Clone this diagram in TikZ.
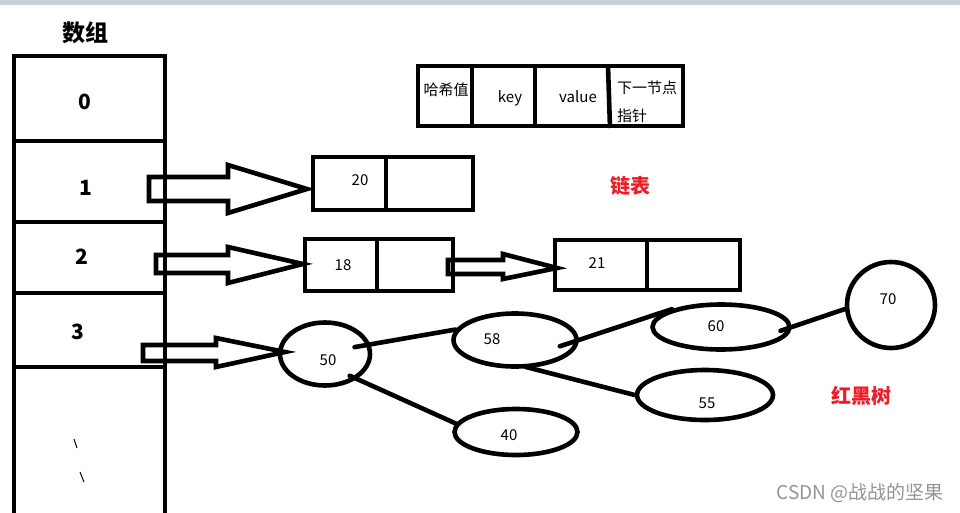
\documentclass[tikz,border=0pt]{standalone}
\usepackage{fontspec}
\setmainfont{Noto Sans CJK SC}
\usetikzlibrary{shapes.geometric}
\definecolor{topband}{RGB}{200,208,222}
\definecolor{redlbl}{RGB}{235,30,40}
\tikzset{
  thick line/.style={line width=4.6pt},
  txt/.style={inner sep=0pt, font=\fontsize{15}{17}\selectfont},
  idx/.style={inner sep=0pt, font=\fontsize{21}{23}\selectfont\bfseries},
  ttl/.style={inner sep=0pt, font=\fontsize{23}{25}\selectfont\bfseries},
  redtxt/.style={inner sep=0pt, text=redlbl, font=\fontsize{20}{22}\selectfont\bfseries},
  oval/.style={ellipse, draw, line width=4.6pt, inner sep=0pt},
  hollow/.style={draw, line width=4.6pt, line join=miter, fill=white},
  edge/.style={line width=4.6pt, line cap=round},
}
\begin{document}
\begin{tikzpicture}[x=1pt,y=-1pt]
\useasboundingbox (0,0) rectangle (960,512);
\fill[white] (0,0) rectangle (960,512);
\fill[topband] (0,0) rectangle (960,5);

% hollow arrows
\draw[hollow] (149,177) -- (228,177) -- (228,165) -- (307,189) -- (228,213) -- (228,201) -- (149,201) -- cycle;
\draw[hollow] (156,255) -- (228,255) -- (228,247) -- (303,264) -- (228,283) -- (228,273) -- (156,273) -- cycle;
\draw[hollow] (143,345) -- (216,345) -- (216,338) -- (285,352) -- (216,367) -- (216,361) -- (143,361) -- cycle;

% array
\node[ttl] (title) at (85,33) {数组};
\draw[thick line] (14,520) -- (14,56) -- (165,56) -- (165,520);
\draw[thick line] (14,141) -- (165,141);
\draw[thick line] (14,222) -- (167,222);
\draw[thick line] (12,293) -- (165,293);
\draw[thick line] (16,367) -- (165,367);
\node[idx] (i0) at (85,102) {0};
\node[idx] (i1) at (86,188) {1};
\node[idx] (i2) at (82,257) {2};
\node[idx] (i3) at (78,332) {3};
\draw[line width=1pt] (74,439) -- (77,448);
\draw[line width=1pt] (80,472) -- (84,482);

% header box
\draw[thick line] (418,66) rectangle (683,126);
\draw[thick line] (472,66) -- (472,128);
\draw[thick line] (535,66) -- (535,128);
\draw[thick line] (608,66) -- (610,128);
\node[txt] (h1) at (446,90) {哈希值};
\node[txt] (h2) at (510,98) {key};
\node[txt] (h3) at (578,97) {value};
\node[txt] (h4) at (647,88) {下一节点};
\node[txt, anchor=west] (h5) at (617,116) {指针};

% linked list boxes
\draw[thick line] (313,157) rectangle (473,210);
\draw[thick line] (386,157) -- (386,212);
\node[txt] (n20) at (360,180) {20};

\draw[hollow] (448,260) -- (503,260) -- (503,254) -- (557,268) -- (503,279) -- (503,274) -- (448,274) -- cycle;

\draw[thick line] (305,239) rectangle (453,291);
\draw[thick line] (377,239) -- (377,293);
\node[txt] (n18) at (343,265) {18};

\draw[thick line] (555,240) rectangle (740,290);
\draw[thick line] (647,240) -- (647,290);
\node[txt] (n21) at (597,263) {21};

\node[redtxt] (ll) at (630,186) {链表};

% red-black tree
\node[oval, minimum width=90pt, minimum height=63pt] (e50) at (325,354) {};
\node[oval, minimum width=123pt, minimum height=53pt] (e58) at (515,340) {};
\node[oval, minimum width=123pt, minimum height=46pt] (e40) at (516,432) {};
\node[oval, minimum width=137pt, minimum height=45pt] (e60) at (721,327) {};
\node[oval, minimum width=136pt, minimum height=50pt] (e55) at (705,395) {};
\node[oval, minimum width=88pt, minimum height=86pt] (e70) at (891,305) {};
\node[txt] (t50) at (328,360) {50};
\node[txt] (t58) at (492,339) {58};
\node[txt] (t40) at (509,435) {40};
\node[txt] (t60) at (716,326) {60};
\node[txt] (t55) at (707,403) {55};
\node[txt] (t70) at (888,299) {70};
\draw[edge, shorten <=-16pt] (e50.12) -- (e58.170);
\draw[edge, shorten <=-8pt] (e50.-38) -- (e40.172);
\draw[edge, shorten <=-20pt] (e58.east) -- (e60.160);
\draw[edge, shorten <=-4pt] (e58.-62) -- (e55.west);
\draw[edge, shorten <=-12pt] (e60.east) -- (e70.185);

\node[redtxt] (rb) at (861,396) {红黑树};
\node[inner sep=0pt, text=black!42, font=\fontsize{19}{21}\selectfont] (wm) at (860,493) {CSDN @战战的坚果};
\end{tikzpicture}
\end{document}
